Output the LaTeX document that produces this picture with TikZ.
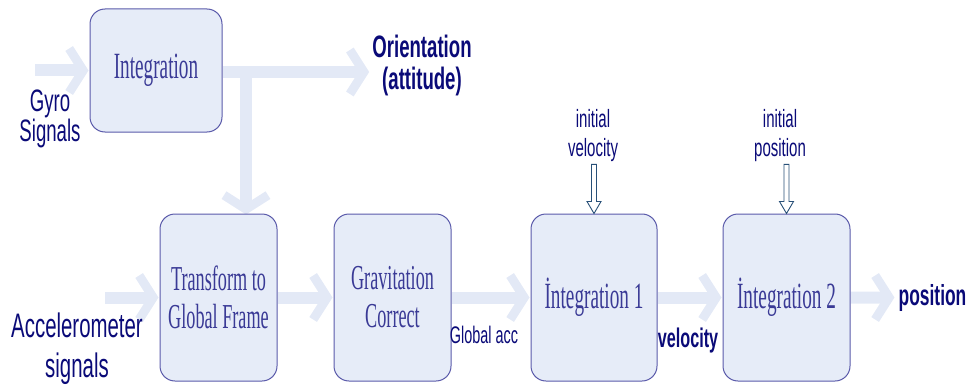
\documentclass[tikz,border=0pt]{standalone}
\usepackage{fontspec}
\usetikzlibrary{arrows.meta,calc,backgrounds}
\newfontfamily\boxfont[FakeStretch=0.52]{Liberation Serif}
\newfontfamily\labfont[FakeStretch=0.6]{Liberation Sans}

\definecolor{labblue}{RGB}{10,10,120}
\definecolor{boxtext}{RGB}{58,58,150}
\definecolor{boxfill}{RGB}{230,236,248}
\definecolor{boxline}{RGB}{90,90,170}
\definecolor{flowc}{RGB}{227,233,246}
\definecolor{initc}{RGB}{40,80,120}

\tikzset{
  blk/.style={draw=boxline, line width=1pt, fill=boxfill, rounded corners=15pt,
    text=boxtext, align=center, inner sep=0pt},
  % multi-line labels are placed by the baseline of their last line
  lab/.style={text=labblue, align=center, inner sep=0pt, anchor=base},
  flow/.style={draw=flowc, line width=12pt,
    -{Straight Barb[length=14pt, width=44pt, line width=9pt]}},
  initarrow/.style={draw=initc, line width=0.9pt, fill=white, line join=miter},
}

\begin{document}
\begin{tikzpicture}[x=1pt, y=-1pt]
\useasboundingbox (0,0) rectangle (971,385);

% processing blocks
\node[blk, minimum width=132pt, minimum height=123pt,
  font=\boxfont\fontsize{37}{38}\selectfont] (integ) at (156,70.5) {Integration};
\node[blk, minimum width=117pt, minimum height=167pt,
  font=\boxfont\fontsize{35}{38}\selectfont] (tr) at (218.5,297.5) {Transform to\\Global Frame};
\node[blk, minimum width=117pt, minimum height=167pt,
  font=\boxfont\fontsize{35}{38}\selectfont] (grav) at (392.5,297.5) {Gravitation\\Correct};
\node[blk, minimum width=126pt, minimum height=167pt,
  font=\boxfont\fontsize{37}{38}\selectfont] (int1) at (594,297.5) {İntegration 1};
\node[blk, minimum width=127pt, minimum height=167pt,
  font=\boxfont\fontsize{37}{38}\selectfont] (int2) at (786.5,297.5) {İntegration 2};

% signal labels
\node[lab, font=\labfont\fontsize{31}{30}\selectfont] (gyro) at (50,142) {Gyro\\Signals};
\node[lab, font=\labfont\bfseries\fontsize{31}{32}\selectfont] (ori) at (422,90) {Orientation\\(attitude)};
\node[lab, font=\labfont\fontsize{34}{40}\selectfont] (acc) at (77,377) {Accelerometer\\signals};
\node[lab, font=\labfont\fontsize{25}{29}\selectfont] (ivel) at (593,157) {initial\\velocity};
\node[lab, font=\labfont\fontsize{25}{29}\selectfont] (ipos) at (780,157) {initial\\position};
\node[lab, font=\labfont\fontsize{24}{26}\selectfont] (gacc) at (484,343) {Global acc};
\node[lab, font=\labfont\bfseries\fontsize{27}{28}\selectfont] (vel) at (688,347) {velocity};
\node[lab, font=\labfont\bfseries\fontsize{29}{30}\selectfont] (pos) at (932.5,305) {position};

% free ends of the wide flow arrows
\coordinate (gyin) at (35,70.5);
\coordinate (accin) at (105,297.5);
\coordinate (br) at (246,72);

% wide flow arrows, behind blocks and labels
\begin{pgfonlayer}{background}
\draw[flow] (gyin) -- ([xshift=-1pt]integ.west);
\draw[flow] (integ.east |- br) -- ([xshift=-3pt]br -| ori.west);
\draw[flow] (br) -- ([yshift=-1pt]br |- tr.north);
\draw[flow] (accin) -- ([xshift=-1pt]tr.west);
\draw[flow] (tr.east) -- ([xshift=-1pt]grav.west);
\draw[flow] (grav.east) -- ([xshift=-1pt]int1.west);
\draw[flow] (int1.east) -- ([xshift=-1pt]int2.west);
\draw[flow] (int2.east) -- ([xshift=-4pt]pos.west);
\end{pgfonlayer}

% hollow arrows for the initial conditions
\coordinate (v0) at ([yshift=-2pt]ivel.south -| int1.north);
\coordinate (v1) at (int1.north);
\draw[initarrow] ($(v0)+(-2.5,0)$) -- ($(v1)+(-2.5,-12)$) -- ($(v1)+(-7,-12)$) -- (v1)
  -- ($(v1)+(7,-12)$) -- ($(v1)+(2.5,-12)$) -- ($(v0)+(2.5,0)$) -- cycle;
\coordinate (p0) at ([yshift=-2pt]ipos.south -| int2.north);
\coordinate (p1) at (int2.north);
\draw[initarrow] ($(p0)+(-2.5,0)$) -- ($(p1)+(-2.5,-12)$) -- ($(p1)+(-7,-12)$) -- (p1)
  -- ($(p1)+(7,-12)$) -- ($(p1)+(2.5,-12)$) -- ($(p0)+(2.5,0)$) -- cycle;
\end{tikzpicture}
\end{document}
